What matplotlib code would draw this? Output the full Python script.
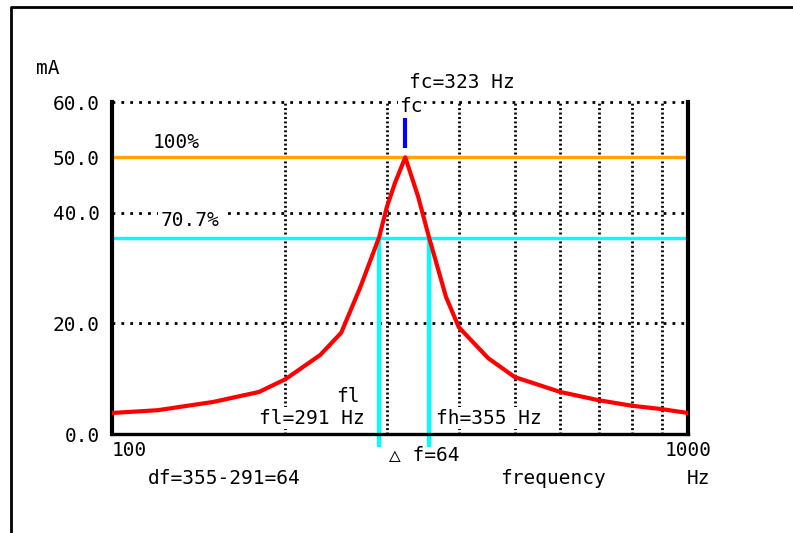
import matplotlib.pyplot as plt
from matplotlib.lines import Line2D

# resonance curve
freq = [100, 120, 150, 180, 200, 230, 250, 270, 291, 300, 310, 323,
        340, 355, 380, 400, 450, 500, 600, 700, 800, 900, 1000]
current = [3.8, 4.3, 5.8, 7.6, 9.9, 14.3, 18.3, 26.6, 35.6, 41.0, 45.4, 50.0,
           42.9, 35.6, 24.8, 19.3, 13.7, 10.3, 7.6, 6.1, 5.1, 4.5, 3.8]

fc = 323
fl = 291
fh = 355
i_max = 50.0
i_707 = 35.35

y_ticks = [0, 20, 40, 50, 60]
y_labels = ['0.0', '20.0', '40.0', '50.0', '60.0']
x_ticks = [100, 1000]
x_labels = ['100', '1000']
v_grid = [200, 300, 400, 500, 600, 700, 800, 900]
h_grid = [20, 40, 60]

W, H = 793, 533
FONT = ['DejaVu Sans Mono', 'DejaVu Sans']
FS = 14

fig = plt.figure(figsize=(W / 100, H / 100), dpi=100)
ax = fig.add_axes([112 / W, 1 - 434 / H, 576 / W, 332 / H])
ax.set_xscale('log')
ax.set_xlim(100, 1000)
ax.set_ylim(0, 60)

def ftext(x, y, s, ha='center', **kw):
    fig.text(x / W, 1 - y / H, s, ha=ha, va='center', family=FONT, fontsize=FS, **kw)

# grid
for g in v_grid:
    ax.axvline(g, color='black', lw=2.0, ls=(0, (0.7, 0.9)), zorder=1)
for g in h_grid:
    ax.axhline(g, color='black', lw=2.0, ls=(0, (1, 2.2)), zorder=1, clip_on=False)

ax.axhline(i_max, color='#ffa500', lw=2.4, zorder=2)
ax.axhline(i_707, color='#00ffff', lw=2.4, zorder=2)
for f in [fl, fh]:
    ax.plot([f, f], [i_707, -2.4], color='#00ffff', lw=3, zorder=2, clip_on=False,
            solid_capstyle='butt')
ax.plot(freq, current, color='red', lw=3, zorder=3)
ax.plot([fc, fc], [51.7, 57.1], color='#0000ff', lw=3, zorder=3, clip_on=False,
        solid_capstyle='butt')

ax.spines['top'].set_visible(False)
ax.spines['left'].set_linewidth(3)
ax.spines['right'].set_linewidth(3)
ax.spines['bottom'].set_linewidth(2.4)

ax.minorticks_off()
ax.set_yticks(y_ticks, y_labels, family=FONT, fontsize=FS)
ax.set_xticks(x_ticks, x_labels, family=FONT, fontsize=FS)
ax.xaxis.get_majorticklabels()[0].set_ha('left')
ax.tick_params(length=0)
ax.tick_params(axis='y', pad=9)
ax.tick_params(axis='x', pad=5)
ax.xaxis.set_minor_formatter(plt.NullFormatter())

# texts
white = dict(fc='white', ec='none', pad=1)
ftext(48, 68, 'mA')
ftext(462, 83, 'fc=323 Hz')
ftext(411, 106, 'fc', bbox=white)
ftext(176, 142, '100%')
ftext(190, 220, '70.7%', bbox=dict(fc='white', ec='none', pad=2))
ftext(348, 397, 'fl')
ftext(365, 418, 'fl=291 Hz', ha='right', bbox=white)
ftext(436, 418, 'fh=355 Hz', ha='left', bbox=white)
ftext(424, 456, '△ f=64')
ftext(224, 478, 'df=355-291=64')
ftext(553, 478, 'frequency')
ftext(698, 478, 'Hz')

# frame
fig.add_artist(Line2D([11 / W, 11 / W, 1], [0, 1 - 7 / H, 1 - 7 / H], color='black', lw=2))

fig.savefig('out.png', dpi=100)
